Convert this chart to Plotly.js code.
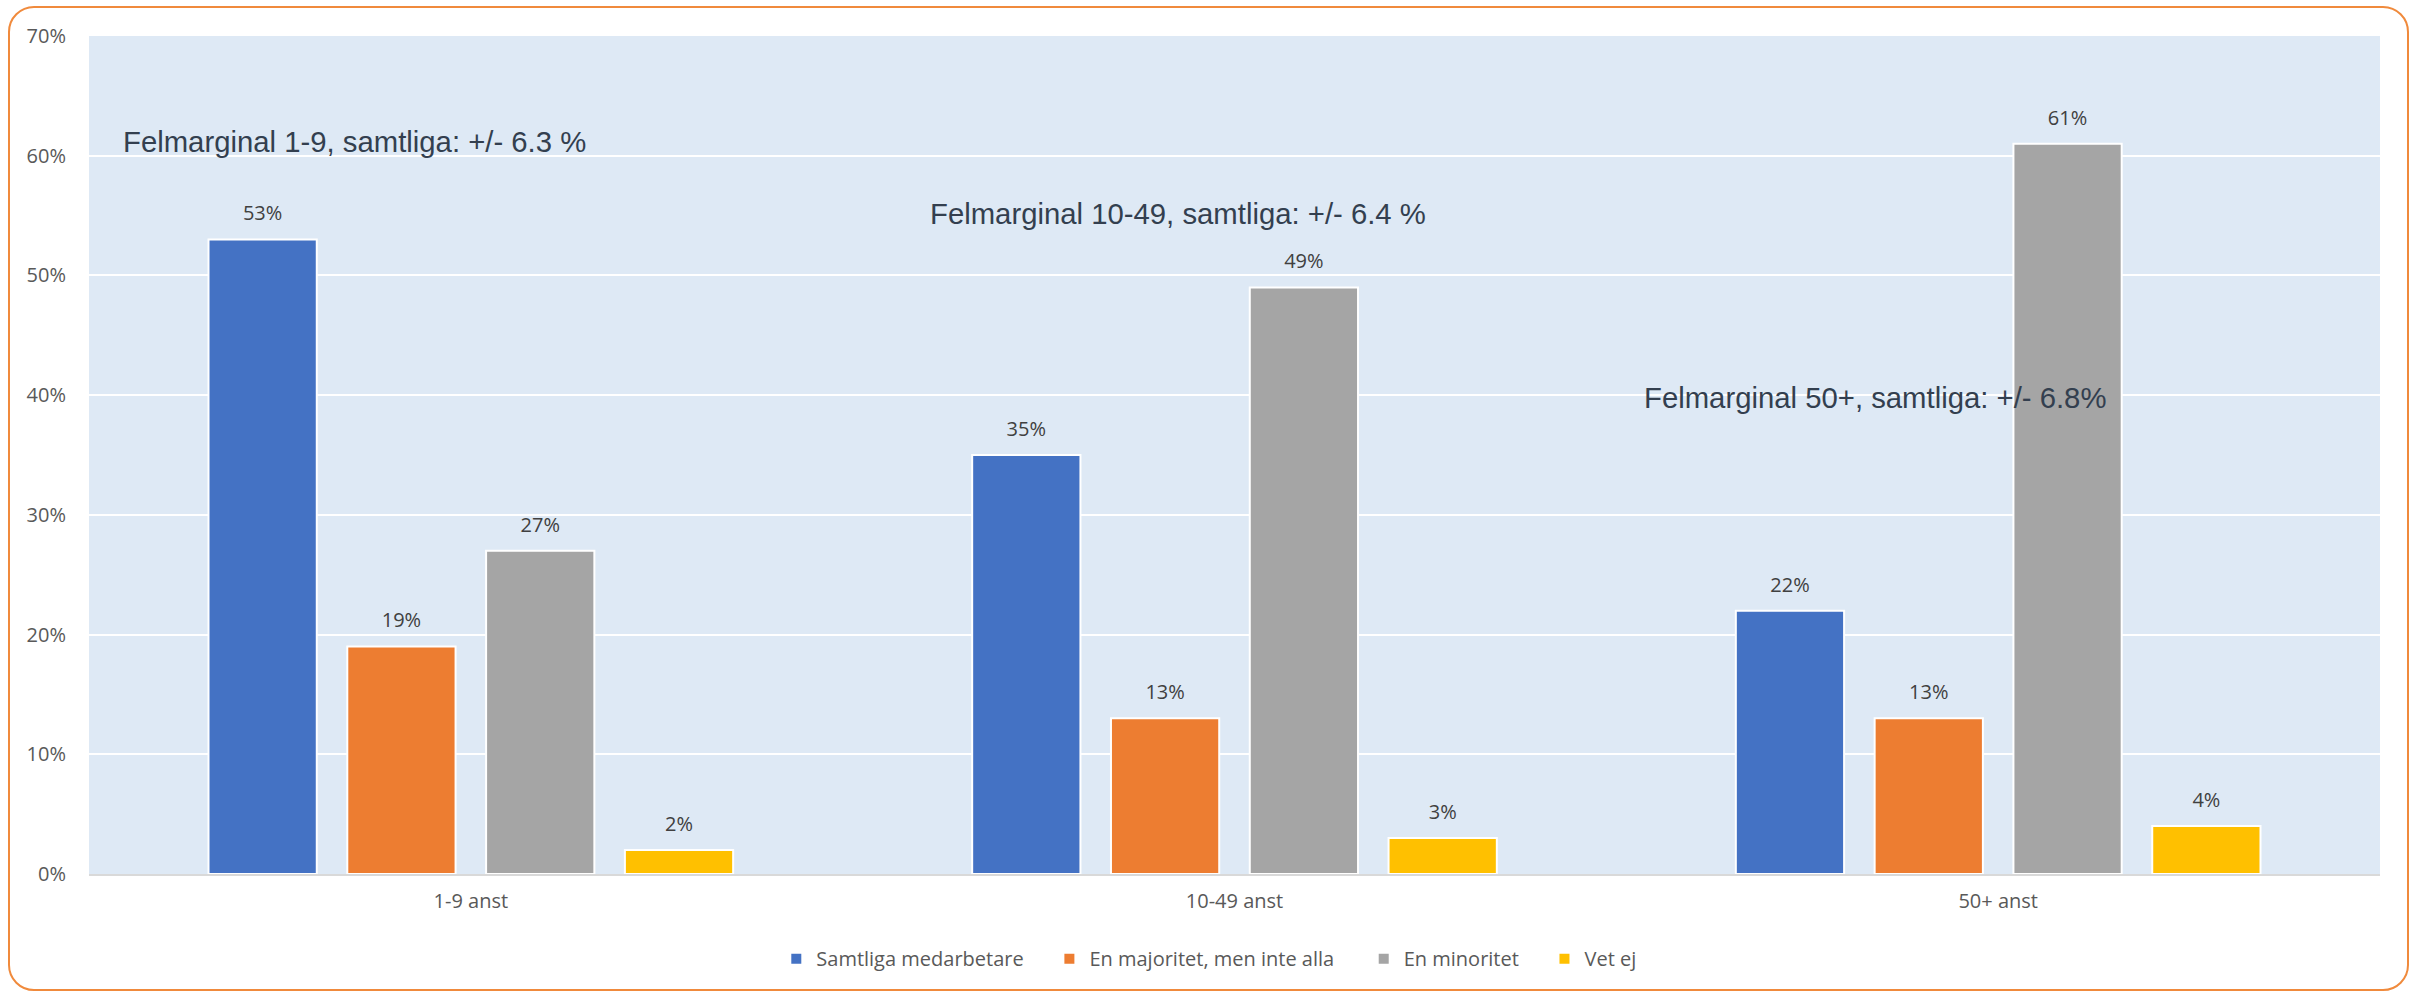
<!DOCTYPE html>
<html>
<head>
<meta charset="utf-8">
<script src="https://cdn.plot.ly/plotly-3.0.1.min.js"></script>
<style>
  html, body { margin: 0; padding: 0; background: #ffffff; }
  #wrap { position: relative; width: 2417px; height: 991px; }
  #chart { width: 2417px; height: 991px; }
  #frame { position: absolute; left: 8px; top: 6px; width: 2397px; height: 981px;
           border: 2px solid #F08A3C; border-radius: 26px; pointer-events: none; }
</style>
</head>
<body>
<div id="wrap">
  <div id="chart"></div>
  <div id="frame"></div>
</div>
<script>
const categories = ["1-9 anst", "10-49 anst", "50+ anst"];
const seriesNames = ["Samtliga medarbetare", "En majoritet, men inte alla", "En minoritet", "Vet ej"];
const samtliga = [53, 35, 22];
const majoritet = [19, 13, 13];
const minoritet = [27, 49, 61];
const vetEj = [2, 3, 4];
const seriesColors = ["#4472C4", "#ED7D31", "#A5A5A5", "#FFC000"];
const yTickVals = [0, 10, 20, 30, 40, 50, 60, 70];
const yTickText = ["0%", "10%", "20%", "30%", "40%", "50%", "60%", "70%"];
const marginNotes = [
  "Felmarginal 1-9, samtliga: +/- 6.3 %",
  "Felmarginal 10-49, samtliga: +/- 6.4 %",
  "Felmarginal 50+, samtliga: +/- 6.8%"
];

const FONT = "'Open Sans', Lato, sans-serif";
const values = [samtliga, majoritet, minoritet, vetEj];
const legendIds = ["legend", "legend2", "legend3", "legend4"];
const legendX = [0.3000, 0.4192, 0.5564, 0.6353];

const barTraces = values.map((v, i) => ({
  type: "bar",
  name: seriesNames[i],
  x: categories,
  y: v,
  legend: legendIds[i],
  marker: { color: seriesColors[i], line: { color: "#ffffff", width: 2 } },
  hoverinfo: "skip"
}));

const labelTraces = values.map((v, i) => ({
  type: "scatter",
  mode: "markers+text",
  x: categories,
  y: v,
  text: v.map(d => d + "%"),
  textposition: "top center",
  textfont: { family: FONT, size: 20, color: "#404040" },
  marker: { size: 21, opacity: 0, color: seriesColors[i] },
  showlegend: false,
  cliponaxis: false,
  hoverinfo: "skip"
}));

const noteFont = { family: "'Liberation Sans', Arial, sans-serif", size: 29.3, color: "#333F4F" };
const legendFont = { family: FONT, size: 20, color: "#595959" };
const mkLegend = (x) => ({ orientation: "h", x: x, xanchor: "left", y: -0.101, yanchor: "middle",
  font: legendFont, itemwidth: 30, bgcolor: "rgba(0,0,0,0)" });

const layout = {
  width: 2417, height: 991,
  margin: { l: 89, r: 37, t: 36, b: 117 },
  paper_bgcolor: "#ffffff",
  plot_bgcolor: "#DEE9F5",
  barmode: "group",
  bargap: 0.273,
  bargroupgap: 0.22,
  scattermode: "group",
  scattergap: 0.273,
  showlegend: true,
  legend: mkLegend(legendX[0]),
  legend2: mkLegend(legendX[1]),
  legend3: mkLegend(legendX[2]),
  legend4: mkLegend(legendX[3]),
  xaxis: {
    type: "category",
    showgrid: false, zeroline: false,
    showline: true, linecolor: "#D9D9D9", linewidth: 2,
    ticks: "", tickfont: { family: FONT, size: 20, color: "#595959" },
    ticklabelstandoff: 8
  },
  yaxis: {
    range: [0, 70], tickvals: yTickVals, ticktext: yTickText,
    showgrid: true, gridcolor: "#ffffff", gridwidth: 2,
    zeroline: false, showline: false, ticks: "",
    tickfont: { family: FONT, size: 20, color: "#595959" },
    ticklabelstandoff: 22
  },
  annotations: [
    { xref: "paper", yref: "y", x: 0.1157, y: 61.15, text: marginNotes[0], showarrow: false, font: noteFont, xanchor: "center", yanchor: "middle" },
    { xref: "paper", yref: "y", x: 0.4753, y: 55.2, text: marginNotes[1], showarrow: false, font: noteFont, xanchor: "center", yanchor: "middle" },
    { xref: "paper", yref: "y", x: 0.7796, y: 39.8, text: marginNotes[2], showarrow: false, font: noteFont, xanchor: "center", yanchor: "middle" }
  ]
};

Plotly.newPlot("chart", barTraces.concat(labelTraces), layout, { displayModeBar: false, staticPlot: true });
</script>
</body>
</html>
